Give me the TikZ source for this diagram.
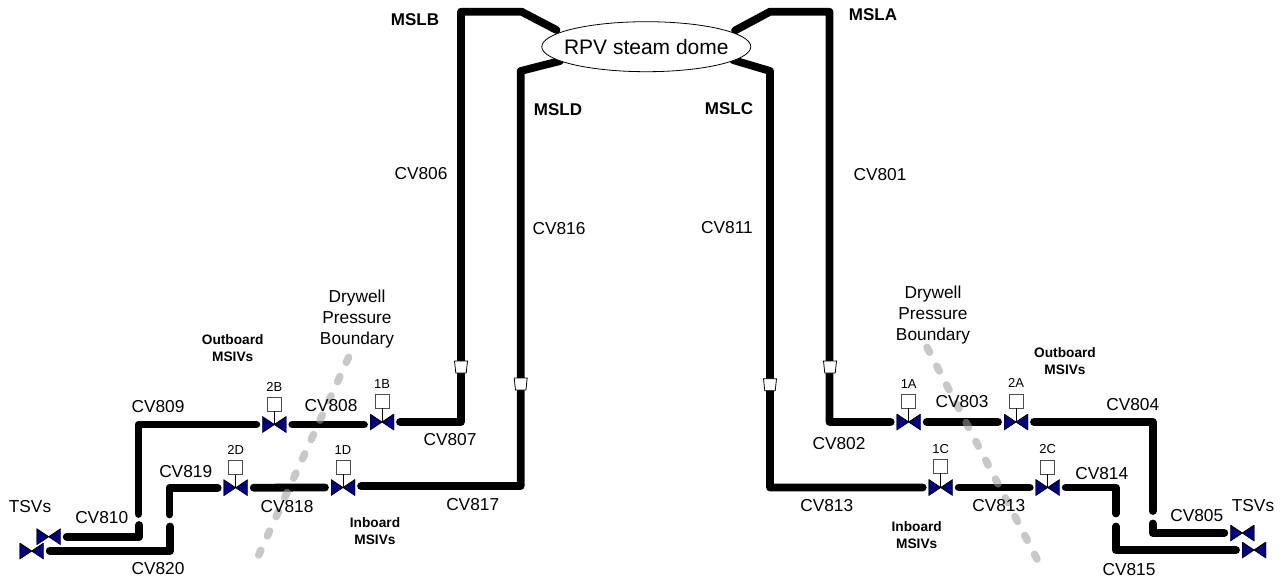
\documentclass[tikz,border=0pt]{standalone}
\usepackage{fontspec}
\setmainfont{Liberation Sans}
\usepackage{xcolor}
\usetikzlibrary{positioning, shapes.geometric, backgrounds}
\definecolor{valveblue}{RGB}{0,0,128}
\definecolor{dashgray}{RGB}{158,158,158}
\begin{document}
\begin{tikzpicture}[
  x=1pt, y=-1pt,
  pipe/.style={line width=7.8pt, line cap=round, line join=round},
  boundary/.style={line width=7.5pt, draw=dashgray, opacity=0.57, line cap=round,
                   dash pattern=on 5.5pt off 15.7pt},
  valve/.style={minimum width=24pt, minimum height=16pt, inner sep=0pt, outer sep=6pt,
                path picture={
                  \filldraw[fill=valveblue, draw=black, line width=0.8pt]
                    (path picture bounding box.north west) --
                    (path picture bounding box.south east) --
                    (path picture bounding box.north east) --
                    (path picture bounding box.south west) -- cycle;}},
  actbox/.style={draw=black!70, line width=0.8pt, fill=white, minimum size=14pt, inner sep=0pt},
  stem/.style={line width=0.8pt},
  cone/.style={trapezium, shape border rotate=180, trapezium stretches=true,
               trapezium left angle=83, trapezium right angle=83, draw, line width=0.8pt,
               fill=white, minimum width=13pt, minimum height=12pt, inner sep=1pt},
  dome/.style={ellipse, draw, line width=0.8pt, fill=white, minimum width=209pt,
               minimum height=50pt, inner xsep=-8.5pt, inner ysep=0pt,
               font=\fontsize{21}{24}\selectfont},
  lbl/.style={font=\fontsize{17.3}{20}\selectfont, inner sep=0pt},
  msl/.style={font=\fontsize{17}{20}\selectfont\bfseries, inner sep=0pt},
  msiv/.style={font=\fontsize{13.7}{17}\selectfont\bfseries, align=center, inner sep=0pt},
  tag/.style={font=\fontsize{13}{15}\selectfont, inner sep=0pt},
  note/.style={font=\fontsize{17.3}{21}\selectfont, align=center, inner sep=0pt}
]
\useasboundingbox (0,0) rectangle (1282,579);

%--- Dome and cones ---
\node[dome] (dome) at (646.3,46.7) {RPV steam dome};
\node[cone] (cB) at (461,367) {};
\node[cone] (cD) at (520.7,384) {};
\node[cone] (cA) at (830,367) {};
\node[cone] (cC) at (770,384.7) {};

%--- Valves, left ---
\node[valve] (v2B) at (274.3,424.5) {};
\node[valve] (v1B) at (382,422) {};
\node[valve] (v2D) at (235.7,487.7) {};
\node[valve] (v1D) at (343,487.5) {};
\node[valve] (tsvD) at (48.7,536.7) {};
\node[valve] (tsvH) at (31.7,551) {};

%--- Valves, right ---
\node[valve] (v1A) at (908.7,422) {};
\node[valve] (v2A) at (1016,422) {};
\node[valve] (v1C) at (940.7,487.5) {};
\node[valve] (v2C) at (1047.7,487.5) {};
\node[valve] (tsvE) at (1242.3,533) {};
\node[valve] (tsvG) at (1254,550) {};

%--- Actuators ---
\node[actbox] (b2B) at (274.3,404) {};
\node[actbox] (b1B) at (382,401) {};
\node[actbox] (b2D) at (235.7,467.5) {};
\node[actbox] (b1D) at (343,467) {};
\node[actbox] (b1A) at (908.7,401) {};
\node[actbox] (b2A) at (1016,401) {};
\node[actbox] (b1C) at (940.7,466) {};
\node[actbox] (b2C) at (1047.7,467) {};
\draw[stem] (b2B) -- (v2B.center);
\draw[stem] (b1B) -- (v1B.center);
\draw[stem] (b2D) -- (v2D.center);
\draw[stem] (b1D) -- (v1D.center);
\draw[stem] (b1A) -- (v1A.center);
\draw[stem] (b2A) -- (v2A.center);
\draw[stem] (b1C) -- (v1C.center);
\draw[stem] (b2C) -- (v2C.center);

%--- Pipe corners ---
\coordinate (bTopIn) at (556.5,30);
\coordinate (bTopMid) at (521.5,11.7);
\coordinate (bTop) at (461,11.7);
\coordinate (bLow) at (461,422);
\coordinate (dIn) at (560,61);
\coordinate (dTop) at (520.7,71);
\coordinate (dLow) at (520.7,486);
\coordinate (aIn) at (735,30.5);
\coordinate (aTopMid) at (770,11.7);
\coordinate (aTop) at (829.5,11.7);
\coordinate (aLow) at (829.5,422);
\coordinate (cIn) at (733,60);
\coordinate (cTop) at (770,71);
\coordinate (cLow) at (770,487.5);
\coordinate (p809) at (138.5,424.5);
\coordinate (p809e) at (138.5,514);
\coordinate (p810s) at (139.3,525);
\coordinate (p810) at (139.3,536.7);
\coordinate (p819) at (169.5,487.7);
\coordinate (p819e) at (169.5,514.5);
\coordinate (p820s) at (170,526.5);
\coordinate (p820) at (170,551);
\coordinate (p804) at (1152.7,422);
\coordinate (p804e) at (1152.7,511);
\coordinate (p805s) at (1152.7,523.5);
\coordinate (p805) at (1152.7,533);
\coordinate (p814) at (1115.7,487.5);
\coordinate (p814e) at (1115.7,513.5);
\coordinate (p815s) at (1115.7,526.5);
\coordinate (p815) at (1115.7,550);
\coordinate (dl1) at (348.6,357.3);
\coordinate (dl2) at (258.7,555);
\coordinate (dr1) at (927,347.3);
\coordinate (dr2) at (1037,559);

%--- Steam lines ---
\begin{scope}[on background layer]
\draw[pipe] (bTopIn) -- (bTopMid) -- (bTop) -- (bLow) -- (v1B.east);
\draw[pipe] (dIn) -- (dTop) -- (dLow) -- (dLow -| v1D.east);
\draw[pipe] (aIn) -- (aTopMid) -- (aTop) -- (aLow) -- (v1A.west);
\draw[pipe] (cIn) -- (cTop) -- (cLow) -- (v1C.west);
\draw[pipe] (v1B.west |- v2B.east) -- (v2B.east);
\draw[pipe] (v1D.west) -- (v2D.east);
\draw[pipe] (v1A.east) -- (v2A.west);
\draw[pipe] (v1C.east) -- (v2C.west);
\draw[pipe] (v2B.west) -- (p809) -- (p809e);
\draw[pipe] (p810s) -- (p810) -- (tsvD.east);
\draw[pipe] (v2D.west) -- (p819) -- (p819e);
\draw[pipe] (p820s) -- (p820) -- (tsvH.east);
\draw[pipe] (v2A.east) -- (p804) -- (p804e);
\draw[pipe] (p805s) -- (p805) -- (tsvE.west);
\draw[pipe] (v2C.east) -- (p814) -- (p814e);
\draw[pipe] (p815s) -- (p815) -- (tsvG.west);
\draw[boundary] (dl1) -- (dl2);
\draw[boundary] (dr1) -- (dr2);
\end{scope}

%--- Line labels ---
\node[msl] (mslb) at (415,20) {MSLB};
\node[msl] (msld) at (558,109.5) {MSLD};
\node[msl] (mslc) at (729,108.5) {MSLC};
\node[msl] (msla) at (873,15) {MSLA};
\node[lbl] (cv806) at (421,174) {CV806};
\node[lbl] (cv816) at (559,229) {CV816};
\node[lbl] (cv811) at (727,228) {CV811};
\node[lbl] (cv801) at (880,175) {CV801};
\node[lbl] (cv809) at (158,406.7) {CV809};
\node[lbl] (cv819) at (185.7,472) {CV819};
\node[lbl] (cv810) at (101.7,518) {CV810};
\node[lbl] (cv820) at (158,569) {CV820};
\node[lbl] (cv808) at (331,405.7) {CV808};
\node[lbl] (cv807) at (450,440) {CV807};
\node[lbl] (cv818) at (287,506.7) {CV818};
\node[lbl] (cv817) at (472.7,505) {CV817};
\node[lbl] (cv803) at (962,402) {CV803};
\node[lbl] (cv802) at (839,444) {CV802};
\node[lbl] (cv813a) at (826.7,505.7) {CV813};
\node[lbl] (cv813b) at (998.7,505.7) {CV813};
\node[lbl] (cv804) at (1132.7,405) {CV804};
\node[lbl] (cv814) at (1101.7,474) {CV814};
\node[lbl] (cv805) at (1196.7,516) {CV805};
\node[lbl] (cv815) at (1129,570) {CV815};
\node[lbl] (tsvl) at (30,506.7) {TSVs};
\node[lbl] (tsvr) at (1253,506) {TSVs};

%--- Valve tags ---
\node[tag] (t2B) at (274.3,387) {2B};
\node[tag] (t1B) at (382,384) {1B};
\node[tag] (t2D) at (235.7,450) {2D};
\node[tag] (t1D) at (343,450) {1D};
\node[tag] (t1A) at (908.7,384) {1A};
\node[tag] (t2A) at (1016,383) {2A};
\node[tag] (t1C) at (940.7,449) {1C};
\node[tag] (t2C) at (1047.7,449) {2C};

%--- Groups ---
\node[msiv] (outl) at (232.7,348) {Outboard\\MSIVs};
\node[msiv] (inl) at (375,531.5) {Inboard\\MSIVs};
\node[msiv] (outr) at (1065,361) {Outboard\\MSIVs};
\node[msiv] (inr) at (916.7,535.5) {Inboard\\MSIVs};
\node[note] (dwl) at (357,319) {Drywell\\Pressure\\Boundary};
\node[note] (dwr) at (933,315) {Drywell\\Pressure\\Boundary};

\end{tikzpicture}
\end{document}
